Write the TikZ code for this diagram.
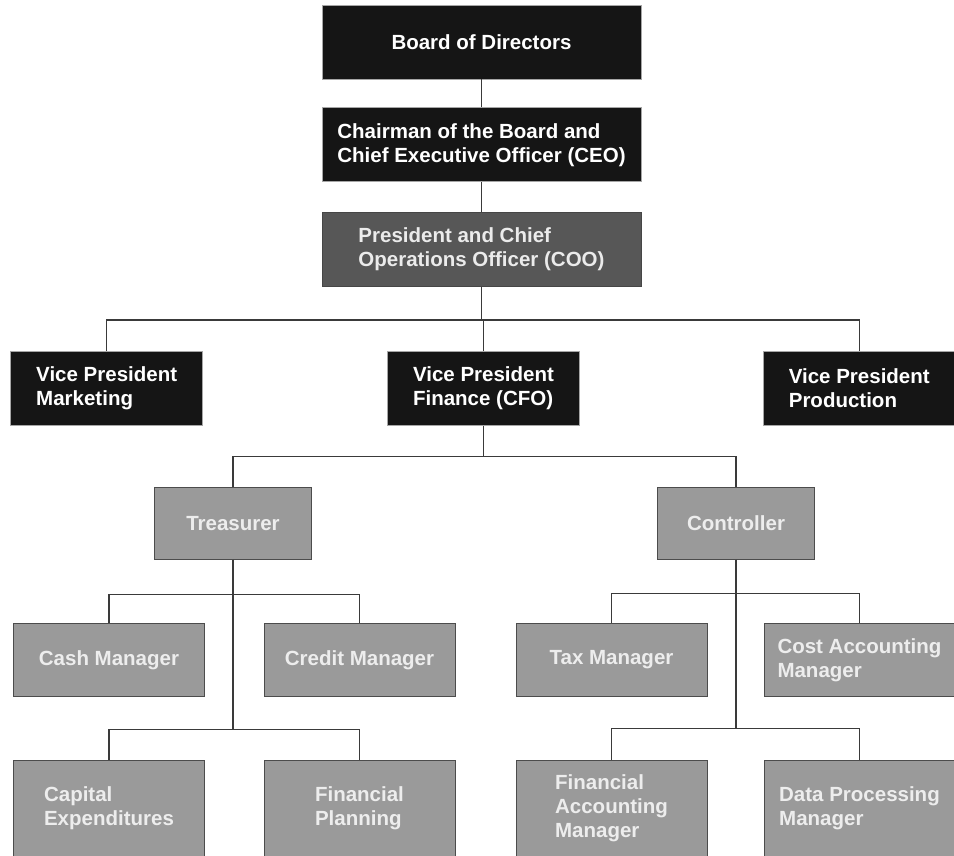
\documentclass[tikz,border=0pt]{standalone}
\usepackage{fontspec}
\setmainfont{Liberation Sans}
\usepackage{xcolor}
\usepackage{tikz}
\usetikzlibrary{positioning}
\usetikzlibrary{calc}
\definecolor{boxblack}{HTML}{151515}
\definecolor{boxdark}{HTML}{575757}
\definecolor{boxgray}{HTML}{9A9A9A}
\definecolor{linegray}{HTML}{3A3A3A}
\tikzstyle{exec} = [rectangle,fill=boxblack,draw=gray!70,line width=0.8pt,
inner sep=0pt, align=left, text=white, minimum height=74pt,
font=\fontsize{20.5}{24}\selectfont\bfseries]
\tikzstyle{pres} = [exec, fill=boxdark, draw=boxdark!80!black, text=white!92!black]
\tikzstyle{staff} = [exec, fill=boxgray, draw=black!70, line width=1pt,
text=white!93!black, minimum width=191pt, minimum height=73pt]
\tikzstyle{link} = [draw=linegray, line width=1.2pt]
\newcommand{\busedge}[3]{ %
  % Join node #1 to all nodes #3 over the bus at #2.
  \draw[link] (#1.south) -- (#1.south |- #2) ;%
  \foreach \y in {#3} { %
    \draw[link] (#1.south |- #2) -| (\y.north) ;%
  } ;
}

\begin{document}
\begin{tikzpicture}
  \useasboundingbox (0,0) rectangle (954pt,-856pt);
  % top
  \node[exec, minimum width=319pt]                  (board) at (481.5pt,-42pt) {Board of Directors};
  \node[exec, minimum width=319pt, below = 28pt of board] (ceo) {Chairman of the Board and\\Chief Executive Officer (CEO)};
  \node[pres, minimum width=319pt, below = 30pt of ceo]   (coo) {President and Chief\\Operations Officer (COO)};
  % vice presidents
  \node[exec, minimum width=192pt, below = 64pt of coo, xshift = 2pt] (cfo) {Vice President\\Finance (CFO)};
  \node[exec, minimum width=192pt, left = 184pt of cfo]  (mkt) {Vice President\\Marketing};
  \node[exec, minimum width=192pt, right = 183pt of cfo] (prod) {Vice President\\Production};
  % finance
  \node[staff, minimum width=157pt, minimum height=72pt, below = 61pt of cfo, xshift = -250.5pt] (treas) {Treasurer};
  \node[staff, minimum width=157pt, minimum height=72pt, below = 61pt of cfo, xshift = 252.5pt]  (ctrl) {Controller};
  % treasurer staff
  \node[staff, below = 63pt of treas, xshift = -124pt]  (cash) {Cash Manager};
  \node[staff, below = 63pt of treas, xshift = 126.5pt] (credit) {Credit Manager};
  \node[staff, minimum height=96pt, below = 63pt of cash]   (capex) {Capital\\Expenditures};
  \node[staff, minimum height=96pt, below = 63pt of credit] (finplan) {Financial\\Planning};
  % controller staff
  \node[staff, below = 63pt of ctrl, xshift = -124.5pt] (tax) {Tax Manager};
  \node[staff, below = 63pt of ctrl, xshift = 123.5pt]  (cost) {Cost Accounting\\Manager};
  \node[staff, minimum height=96pt, below = 63pt of tax]  (finacct) {Financial\\Accounting\\Manager};
  \node[staff, minimum height=96pt, below = 63pt of cost] (dataproc) {Data Processing\\Manager};
  % buses
  \coordinate[below = 33pt of coo.south]    (vpbus);
  \coordinate[below = 31pt of cfo.south]    (cfobus);
  \coordinate[below = 35pt of treas.south]  (treasbus);
  \coordinate[below = 170pt of treas.south] (treasbuslow);
  \coordinate[below = 34pt of ctrl.south]   (ctrlbus);
  \coordinate[below = 169pt of ctrl.south]  (ctrlbuslow);

  % edges
  \draw[link] (board) -- (ceo);
  \draw[link] (ceo) -- (coo);
  \busedge {coo} {vpbus} {mkt, cfo, prod}
  \busedge {cfo} {cfobus} {treas, ctrl}
  \busedge {treas} {treasbuslow} {capex, finplan}
  \busedge {treas} {treasbus} {cash, credit}
  \busedge {ctrl} {ctrlbuslow} {finacct, dataproc}
  \busedge {ctrl} {ctrlbus} {tax, cost}
\end{tikzpicture}
\end{document}
